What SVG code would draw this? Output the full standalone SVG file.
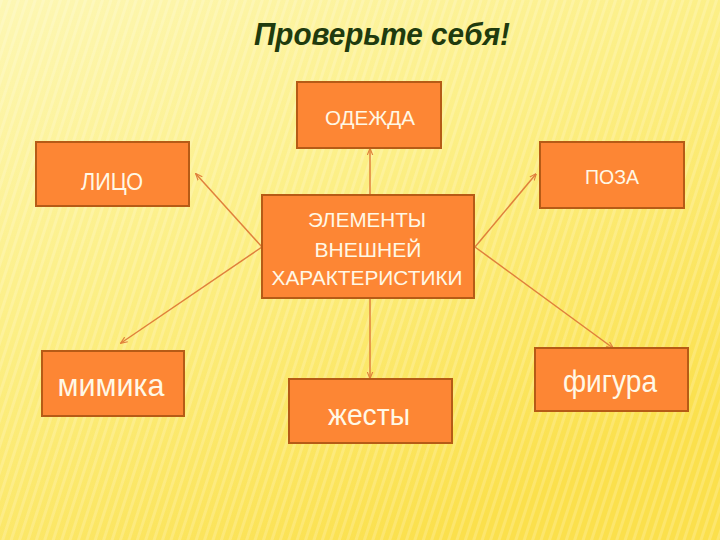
<svg xmlns="http://www.w3.org/2000/svg" width="720" height="540" viewBox="0 0 720 540">
<defs>
<linearGradient id="bg" x1="0" y1="0" x2="0.6" y2="1">
<stop offset="0" stop-color="#fdf7b4"/>
<stop offset="0.45" stop-color="#fcef86"/>
<stop offset="1" stop-color="#fbe04c"/>
</linearGradient>
<pattern id="stripes" width="8" height="8" patternUnits="userSpaceOnUse" patternTransform="rotate(18)">
<rect width="3" height="8" fill="#ffffff" opacity="0.18"/>
</pattern>
<marker id="arr" viewBox="0 0 10 10" refX="9" refY="5" markerWidth="7" markerHeight="7" orient="auto" markerUnits="userSpaceOnUse">
<path d="M0,1 L10,5 L0,9" fill="none" stroke="#e0803c" stroke-width="1.6"/>
</marker>
</defs>
<style>
.box{fill:#fd8634;stroke:#b65b16;stroke-width:2}
.t{font-family:"Liberation Sans",Arial,sans-serif;fill:#fff8e6;text-anchor:middle}
.c{stroke:#e0803c;stroke-width:1.5;fill:none;marker-end:url(#arr)}
</style>
<rect width="720" height="540" fill="url(#bg)"/>
<rect width="720" height="540" fill="url(#stripes)"/>
<text x="382" y="45" font-family="'Liberation Sans',Arial,sans-serif" font-weight="bold" font-style="italic" font-size="31" fill="#1f3b0e" text-anchor="middle" textLength="256" lengthAdjust="spacingAndGlyphs">Проверьте себя!</text>
<g id="connectors">
<line class="c" x1="370" y1="195" x2="370" y2="149"/>
<line class="c" x1="262" y1="247" x2="196" y2="174"/>
<line class="c" x1="262" y1="247" x2="121" y2="343"/>
<line class="c" x1="475" y1="247" x2="536" y2="174"/>
<line class="c" x1="475" y1="247" x2="613" y2="348"/>
<line class="c" x1="370" y1="298" x2="370" y2="378"/>
</g>
<g id="odezhda">
<rect class="box" x="297" y="82" width="144" height="66"/>
<text class="t" x="370" y="125" font-size="20" textLength="90" lengthAdjust="spacingAndGlyphs">ОДЕЖДА</text>
</g>
<g id="litso">
<rect class="box" x="36" y="142" width="153" height="64"/>
<text class="t" x="112" y="190" font-size="24" textLength="62" lengthAdjust="spacingAndGlyphs">ЛИЦО</text>
</g>
<g id="poza">
<rect class="box" x="540" y="142" width="144" height="66"/>
<text class="t" x="612" y="184" font-size="21" textLength="54" lengthAdjust="spacingAndGlyphs">ПОЗА</text>
</g>
<g id="center">
<rect class="box" x="262" y="195" width="212" height="103"/>
<text class="t" x="367" y="227" font-size="20" textLength="118" lengthAdjust="spacingAndGlyphs">ЭЛЕМЕНТЫ</text>
<text class="t" x="368" y="257" font-size="20" textLength="107" lengthAdjust="spacingAndGlyphs">ВНЕШНЕЙ</text>
<text class="t" x="367" y="285" font-size="20" textLength="191" lengthAdjust="spacingAndGlyphs">ХАРАКТЕРИСТИКИ</text>
</g>
<g id="mimika">
<rect class="box" x="42" y="351" width="142" height="65"/>
<text class="t" x="111" y="396" font-size="32" textLength="107" lengthAdjust="spacingAndGlyphs">мимика</text>
</g>
<g id="zhesty">
<rect class="box" x="289" y="379" width="163" height="64"/>
<text class="t" x="369" y="425" font-size="29" textLength="82" lengthAdjust="spacingAndGlyphs">жесты</text>
</g>
<g id="figura">
<rect class="box" x="535" y="348" width="153" height="63"/>
<text class="t" x="610" y="392" font-size="32" textLength="94" lengthAdjust="spacingAndGlyphs">фигура</text>
</g>
</svg>
